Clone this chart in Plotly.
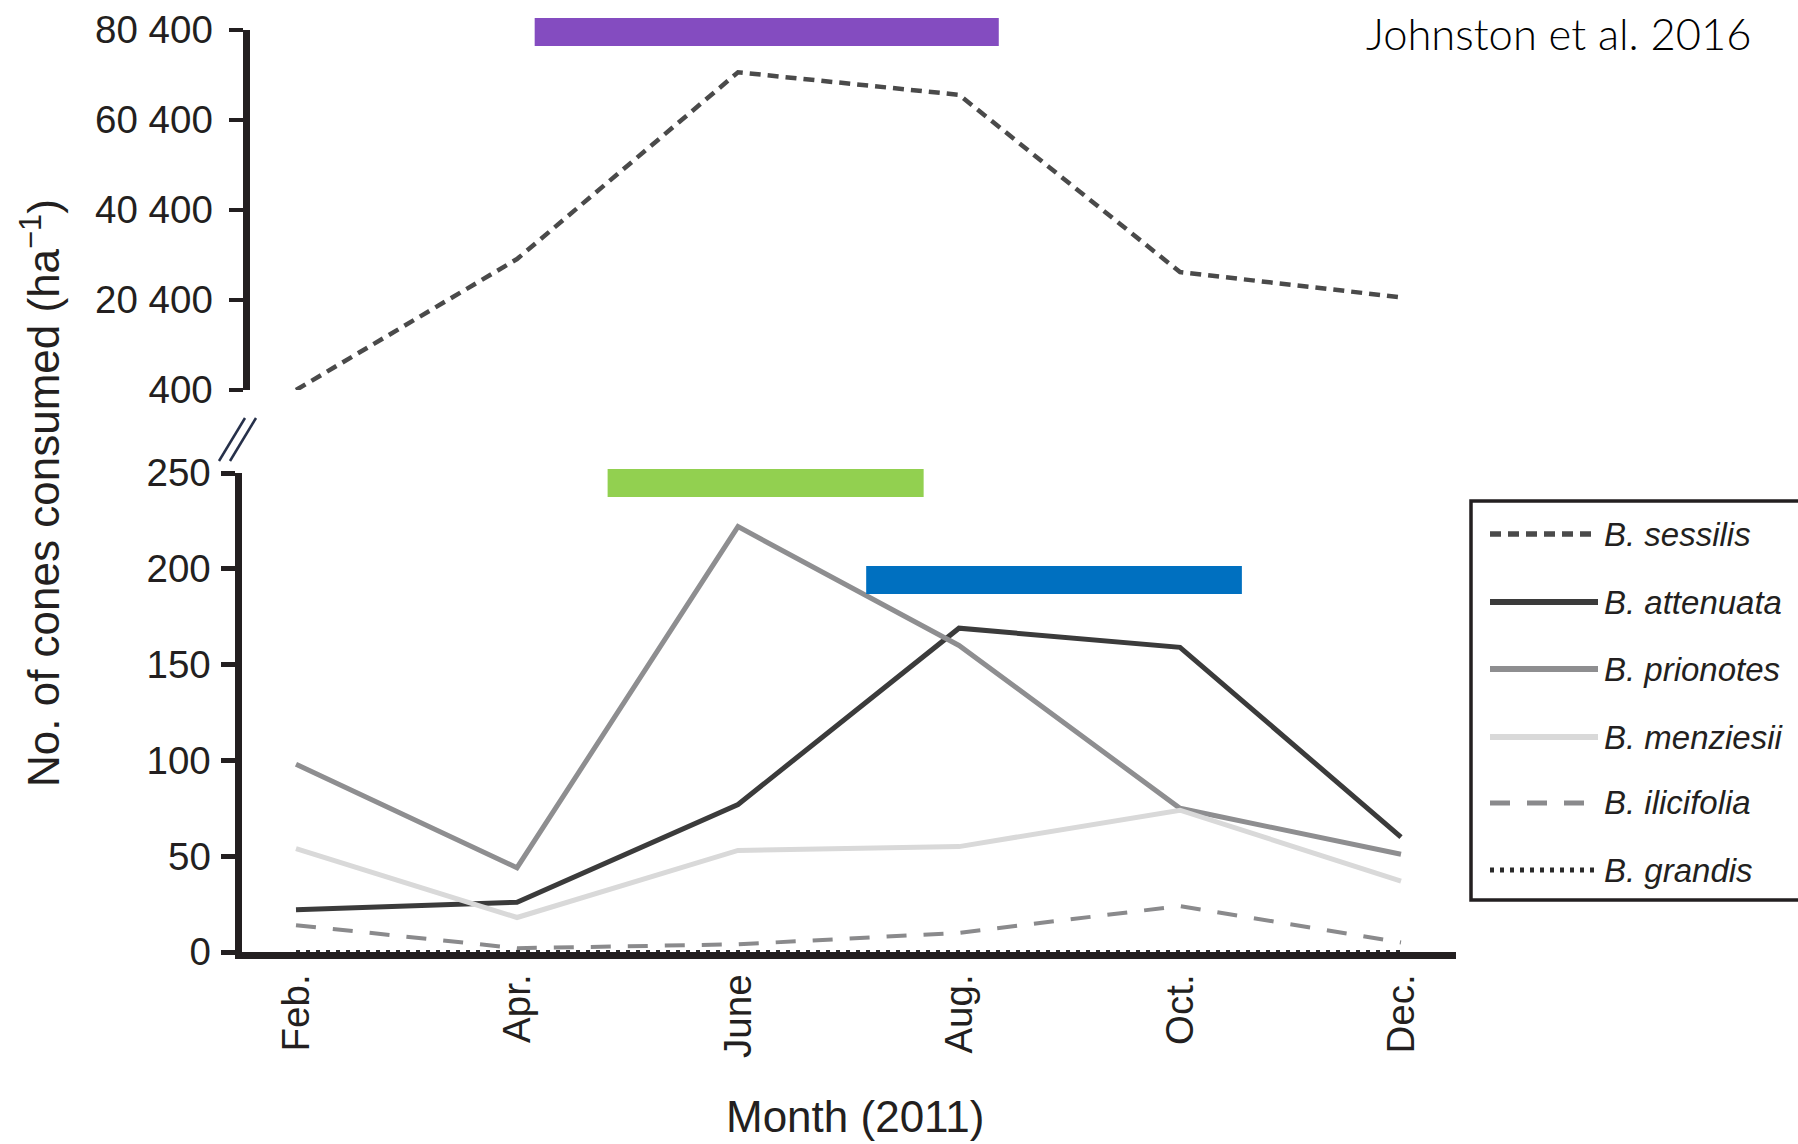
import plotly.graph_objects as go

# ---- data -------------------------------------------------------------
months = ["Feb.", "Apr.", "June", "Aug.", "Oct.", "Dec."]

sessilis = [400, 29500, 71000, 66000, 26600, 21000]
attenuata = [22, 26, 77, 169, 159, 60]
prionotes = [98, 44, 222, 160, 75, 51]
menziesii = [54, 18, 53, 55, 74, 37]
ilicifolia = [14, 2, 4, 10, 24, 5]
grandis = [0, 0, 0, 0, 0, 0]

upper_tick_vals = [400, 20400, 40400, 60400, 80400]
upper_tick_text = ["400", "20 400", "40 400", "60 400", "80 400"]
lower_tick_vals = [0, 50, 100, 150, 200, 250]

# activity periods, in month-index units along the x axis
purple_span = [1.08, 3.18]
green_span = [1.41, 2.84]
blue_span = [2.58, 4.28]

# ---- page geometry ------------------------------------------------------
W, H = 1798, 1144


def fx(p):
    return p / W


def fy(p):
    return 1 - p / H


FONT = "Liberation Sans, Arial, Helvetica, sans-serif"
INK = "#231f20"

X_FIRST, X_STEP = 296, 221          # pixel of first month, spacing between months
LOW_LEFT, UP_LEFT, RIGHT = 241.5, 249.5, 1456


def xrange_for(left):
    return [(left - X_FIRST) / X_STEP, (RIGHT - X_FIRST) / X_STEP]


# series styles: name, values, colour, width, dash, panel
series = [
    ("B. sessilis", sessilis, "#4a4a4a", 4.5, "11px,7px", "upper"),
    ("B. attenuata", attenuata, "#3b3b3b", 5, "solid", "lower"),
    ("B. prionotes", prionotes, "#8e8e90", 5, "solid", "lower"),
    ("B. menziesii", menziesii, "#d9d9d9", 5, "solid", "lower"),
    ("B. ilicifolia", ilicifolia, "#8a8a8c", 4, "20px,17px", "lower"),
    ("B. grandis", grandis, "#2a2a2a", 4, "4px,6px", "lower"),
]

fig = go.Figure()
for name, vals, col, wid, dash, panel in series:
    fig.add_trace(go.Scatter(
        x=months, y=vals, mode="lines", name=name,
        line=dict(color=col, width=wid, dash=dash),
        xaxis="x2" if panel == "upper" else "x",
        yaxis="y2" if panel == "upper" else "y",
        cliponaxis=False, showlegend=False,
    ))

shapes = []
# coloured period bars
for span, col, xref, top, bot in [
    (purple_span, "#844cc0", "x2", 18, 46),
    (green_span, "#92d050", "x", 469, 497),
    (blue_span, "#0070c0", "x", 566, 594),
]:
    shapes.append(dict(type="rect", xref=xref, yref="paper",
                       x0=span[0], x1=span[1], y0=fy(bot), y1=fy(top),
                       fillcolor=col, line=dict(width=0), layer="above"))

# axis break marks
for dx in (0, 11):
    shapes.append(dict(type="line", xref="paper", yref="paper",
                       x0=fx(219 + dx), y0=fy(461), x1=fx(245 + dx), y1=fy(418),
                       line=dict(color="#26304a", width=2.5)))

# legend box and samples
shapes.append(dict(type="rect", xref="paper", yref="paper",
                   x0=fx(1471), x1=fx(1840), y0=fy(900), y1=fy(501),
                   line=dict(color=INK, width=3.5), fillcolor="rgba(0,0,0,0)"))
rows = [534, 602, 669, 737, 803, 870]
annotations = []
for (name, vals, col, wid, dash, panel), ry in zip(series, rows):
    shapes.append(dict(type="line", xref="paper", yref="paper",
                       x0=fx(1490), x1=fx(1598), y0=fy(ry), y1=fy(ry),
                       line=dict(color=col, width=wid + 1, dash=dash)))
    annotations.append(dict(xref="paper", yref="paper", x=fx(1602), y=fy(ry),
                            xanchor="left", yanchor="middle", showarrow=False,
                            text="<i>%s</i>" % name,
                            font=dict(family=FONT, size=33, color=INK)))

annotations += [
    dict(xref="paper", yref="paper", x=fx(855), y=fy(1116), showarrow=False,
         xanchor="center", yanchor="middle", text="Month (2011)",
         font=dict(family=FONT, size=44, color=INK)),
    dict(xref="paper", yref="paper", x=fx(40), y=fy(493), showarrow=False,
         xanchor="center", yanchor="middle", textangle=-90,
         text="No. of cones consumed (ha<sup>\u22121</sup>)",
         font=dict(family=FONT, size=44, color=INK)),
    dict(xref="paper", yref="paper", x=fx(1754), y=fy(33), showarrow=False,
         xanchor="right", yanchor="middle", text="Johnston et al. 2016",
         font=dict(family="Lato, Open Sans, sans-serif", size=43.5,
                   weight=300, color="#000000")),
]

axis_common = dict(showgrid=False, zeroline=False, color=INK, automargin=False,
                   tickfont=dict(family=FONT, size=38.5, color=INK))

fig.update_layout(
    width=W, height=H, autosize=False,
    margin=dict(l=0, r=0, t=0, b=0, pad=0),
    paper_bgcolor="white", plot_bgcolor="white",
    showlegend=False,
    xaxis=dict(domain=[fx(LOW_LEFT), fx(RIGHT)], range=xrange_for(LOW_LEFT),
               anchor="y", showline=True, linewidth=7, linecolor=INK,
               ticks="", tickangle=-90, ticklabelstandoff=0, **axis_common),
    xaxis2=dict(domain=[fx(UP_LEFT), fx(RIGHT)], range=xrange_for(UP_LEFT),
                anchor="y2", showline=False, showticklabels=False, ticks="",
                showgrid=False, zeroline=False, automargin=False),
    yaxis=dict(domain=[fy(952), fy(473)], range=[0, 250], anchor="x",
               tickvals=lower_tick_vals, showline=True, linewidth=7, linecolor=INK,
               ticks="outside", ticklen=14, tickwidth=5, tickcolor=INK,
               ticklabelstandoff=2, **axis_common),
    yaxis2=dict(domain=[fy(390), fy(30)], range=[400, 80400], anchor="x2",
                tickvals=upper_tick_vals, ticktext=upper_tick_text,
                showline=True, linewidth=7, linecolor=INK,
                ticks="outside", ticklen=14, tickwidth=4, tickcolor=INK,
                ticklabelstandoff=8, **axis_common),
    shapes=shapes,
    annotations=annotations,
)

fig.write_html("out.html")
